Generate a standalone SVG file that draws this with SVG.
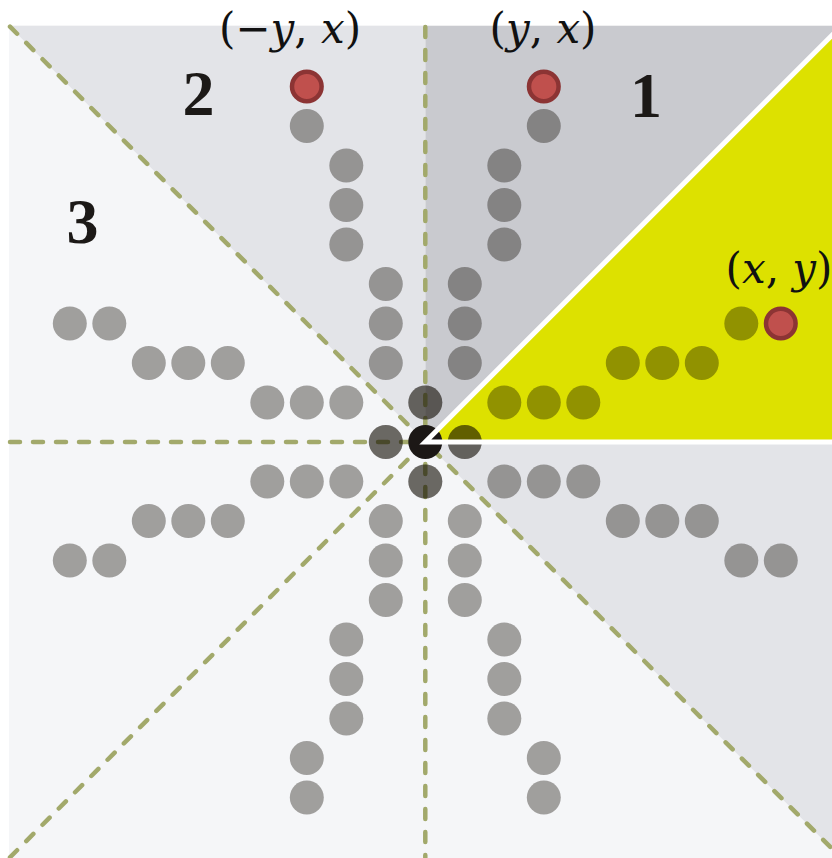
<svg xmlns="http://www.w3.org/2000/svg" width="832" height="858" viewBox="0 0 832 858">
<style>
.dash{fill:none;stroke:#a2a96b;stroke-width:4.5;stroke-dasharray:10 13;stroke-linecap:round}
.d{fill:#0d0900;fill-opacity:0.364}
.red{fill:#c0504d;stroke:#8c3434;stroke-width:4.5}
.lbl{font-family:"DejaVu Serif","Liberation Serif",serif;font-size:42px;fill:#111;text-anchor:middle}
.num{font-family:"Liberation Serif","DejaVu Serif",serif;font-weight:bold;font-size:64px;fill:#1c1917;text-anchor:middle}
</style>
<rect width="832" height="858" fill="#ffffff"/>
<g id="octants">
<rect x="9" y="25.7" width="832.6" height="832.6" fill="#f5f6f8"/>
<polygon points="425.3,442 841.6,442 841.6,25.7" fill="#dde100"/>
<polygon points="425.3,442 841.6,25.7 425.3,25.7" fill="#c9cacf"/>
<polygon points="425.3,442 425.3,25.7 9,25.7" fill="#e3e4e8"/>
<polygon points="425.3,442 841.6,442 841.6,858.3" fill="#e3e4e8"/>
</g>
<g id="connectors">
<line class="dash" x1="425.3" y1="27" x2="425.3" y2="858"/>
<line class="dash" x1="10" y1="442" x2="425.3" y2="442"/>
<line class="dash" x1="10" y1="26.7" x2="841.6" y2="858.3"/>
<line class="dash" x1="10" y1="857.3" x2="425.3" y2="442"/>
</g>
<g id="octant1">
<circle class="d" cx="464.8" cy="442" r="17"/><circle class="d" cx="504.3" cy="402.5" r="17"/><circle class="d" cx="543.8" cy="402.5" r="17"/><circle class="d" cx="583.3" cy="402.5" r="17"/><circle class="d" cx="622.8" cy="363" r="17"/><circle class="d" cx="662.3" cy="363" r="17"/><circle class="d" cx="701.8" cy="363" r="17"/><circle class="d" cx="741.3" cy="323.5" r="17"/>
</g>
<g id="octant2">
<circle class="d" cx="425.3" cy="402.5" r="17"/><circle class="d" cx="464.8" cy="363" r="17"/><circle class="d" cx="464.8" cy="323.5" r="17"/><circle class="d" cx="464.8" cy="284" r="17"/><circle class="d" cx="504.3" cy="244.5" r="17"/><circle class="d" cx="504.3" cy="205" r="17"/><circle class="d" cx="504.3" cy="165.5" r="17"/><circle class="d" cx="543.8" cy="126" r="17"/>
</g>
<g id="octant3">
<circle class="d" cx="425.3" cy="402.5" r="17"/><circle class="d" cx="385.8" cy="363" r="17"/><circle class="d" cx="385.8" cy="323.5" r="17"/><circle class="d" cx="385.8" cy="284" r="17"/><circle class="d" cx="346.3" cy="244.5" r="17"/><circle class="d" cx="346.3" cy="205" r="17"/><circle class="d" cx="346.3" cy="165.5" r="17"/><circle class="d" cx="306.8" cy="126" r="17"/>
</g>
<g id="octant4">
<circle class="d" cx="385.8" cy="442" r="17"/><circle class="d" cx="346.3" cy="402.5" r="17"/><circle class="d" cx="306.8" cy="402.5" r="17"/><circle class="d" cx="267.3" cy="402.5" r="17"/><circle class="d" cx="227.8" cy="363" r="17"/><circle class="d" cx="188.3" cy="363" r="17"/><circle class="d" cx="148.8" cy="363" r="17"/><circle class="d" cx="109.3" cy="323.5" r="17"/><circle class="d" cx="69.8" cy="323.5" r="17"/>
</g>
<g id="octant5">
<circle class="d" cx="385.8" cy="442" r="17"/><circle class="d" cx="346.3" cy="481.5" r="17"/><circle class="d" cx="306.8" cy="481.5" r="17"/><circle class="d" cx="267.3" cy="481.5" r="17"/><circle class="d" cx="227.8" cy="521" r="17"/><circle class="d" cx="188.3" cy="521" r="17"/><circle class="d" cx="148.8" cy="521" r="17"/><circle class="d" cx="109.3" cy="560.5" r="17"/><circle class="d" cx="69.8" cy="560.5" r="17"/>
</g>
<g id="octant6">
<circle class="d" cx="425.3" cy="481.5" r="17"/><circle class="d" cx="385.8" cy="521" r="17"/><circle class="d" cx="385.8" cy="560.5" r="17"/><circle class="d" cx="385.8" cy="600" r="17"/><circle class="d" cx="346.3" cy="639.5" r="17"/><circle class="d" cx="346.3" cy="679" r="17"/><circle class="d" cx="346.3" cy="718.5" r="17"/><circle class="d" cx="306.8" cy="758" r="17"/><circle class="d" cx="306.8" cy="797.5" r="17"/>
</g>
<g id="octant7">
<circle class="d" cx="425.3" cy="481.5" r="17"/><circle class="d" cx="464.8" cy="521" r="17"/><circle class="d" cx="464.8" cy="560.5" r="17"/><circle class="d" cx="464.8" cy="600" r="17"/><circle class="d" cx="504.3" cy="639.5" r="17"/><circle class="d" cx="504.3" cy="679" r="17"/><circle class="d" cx="504.3" cy="718.5" r="17"/><circle class="d" cx="543.8" cy="758" r="17"/><circle class="d" cx="543.8" cy="797.5" r="17"/>
</g>
<g id="octant8">
<circle class="d" cx="464.8" cy="442" r="17"/><circle class="d" cx="504.3" cy="481.5" r="17"/><circle class="d" cx="543.8" cy="481.5" r="17"/><circle class="d" cx="583.3" cy="481.5" r="17"/><circle class="d" cx="622.8" cy="521" r="17"/><circle class="d" cx="662.3" cy="521" r="17"/><circle class="d" cx="701.8" cy="521" r="17"/><circle class="d" cx="741.3" cy="560.5" r="17"/><circle class="d" cx="780.8" cy="560.5" r="17"/>
</g>
<g id="center">
<circle cx="425.3" cy="442" r="17" fill="#1c1816"/>
<polyline points="841.6,25.7 425.3,442 841.6,442" fill="none" stroke="#ffffff" stroke-width="5" stroke-linejoin="miter"/>
</g>
<g id="red-points">
<circle class="red" cx="780.8" cy="323.5" r="14.8"/>
<circle class="red" cx="543.8" cy="86.5" r="14.8"/>
<circle class="red" cx="306.8" cy="86.5" r="14.8"/>
</g>
<g id="labels">
<text class="lbl" x="290" y="43">(−<tspan font-style="italic">y</tspan>, <tspan font-style="italic">x</tspan>)</text>
<text class="lbl" x="543" y="43">(<tspan font-style="italic">y</tspan>, <tspan font-style="italic">x</tspan>)</text>
<text class="lbl" x="779" y="283">(<tspan font-style="italic">x</tspan>, <tspan font-style="italic">y</tspan>)</text>
<text class="num" x="646" y="117">1</text>
<text class="num" x="198.5" y="115">2</text>
<text class="num" x="82.5" y="243">3</text>
</g>
</svg>
